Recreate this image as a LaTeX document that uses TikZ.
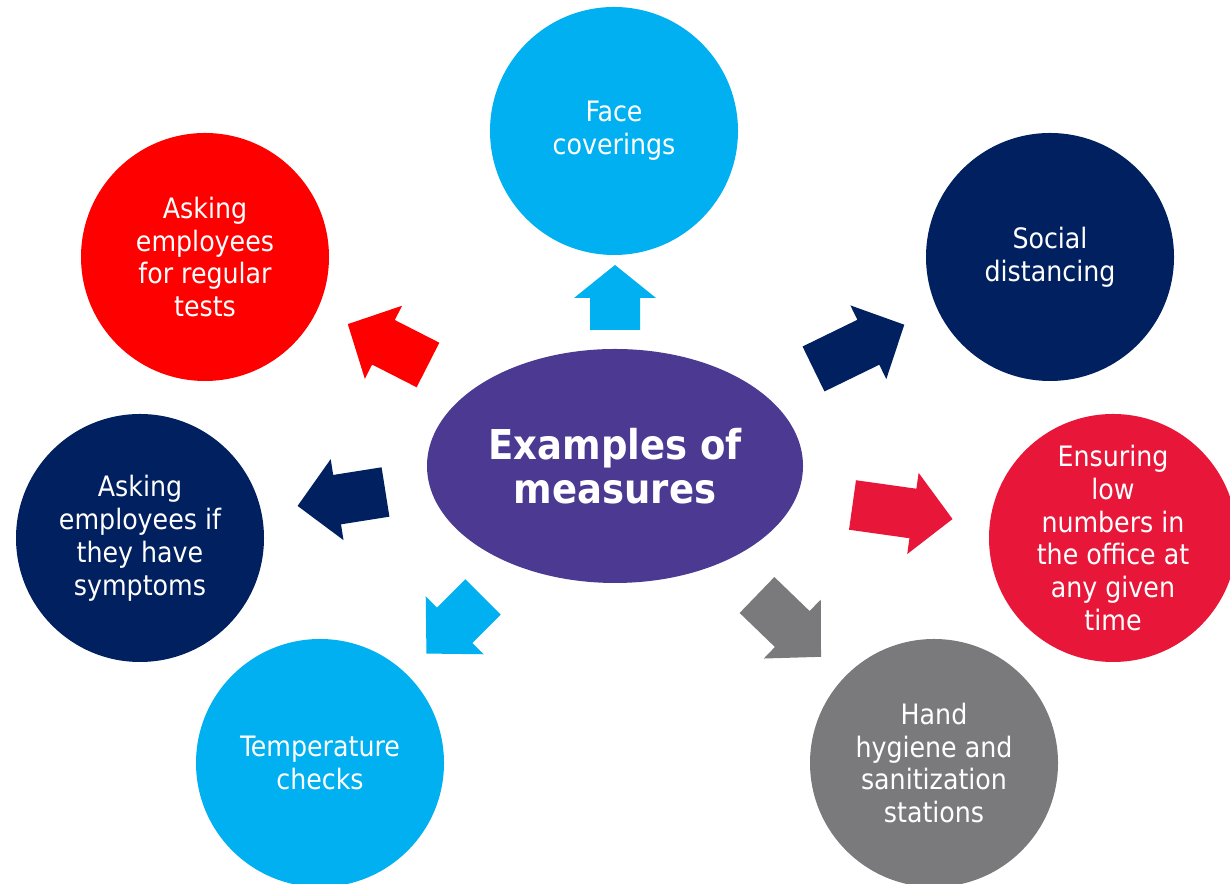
\documentclass[tikz,border=0pt]{standalone}
\usepackage{fontspec}
\setmainfont{DejaVu Sans Condensed}
\usetikzlibrary{shapes.geometric}

\definecolor{skyblue}{HTML}{00B0F0}
\definecolor{brightred}{HTML}{FF0000}
\definecolor{darknavy}{HTML}{002060}
\definecolor{crimson}{HTML}{E8173A}
\definecolor{midgrey}{HTML}{7A7A7C}
\definecolor{hubpurple}{HTML}{4C3A92}

\tikzset{
  measure/.style={circle, minimum size=4.96cm, inner sep=0pt, align=center,
    text=white, font=\fontsize{16}{18.7}\selectfont},
  hub/.style={ellipse, minimum width=7.52cm, minimum height=4.68cm, inner sep=0pt,
    align=center, text=white, fill=hubpurple, font=\bfseries\fontsize{23.4}{25}\selectfont},
}

% block arrow: [head length]{tail}{angle}{length}{colour}
\newcommand{\blockarrow}[5][0.8]{%
  \fill[#5, shift={#2}, rotate=#3] (0,-0.5) -- ({#4-#1},-0.5) -- ({#4-#1},-0.82)
    -- (#4,0) -- ({#4-#1},0.82) -- ({#4-#1},0.5) -- (0,0.5) -- cycle;}

\begin{document}
\begin{tikzpicture}
      \useasboundingbox (0,0) rectangle (24.6,17.68);
      \node[hub] (hub) at (12.30,8.36) {Examples of\\measures};
      \node[measure, fill=skyblue] (face) at (12.28,15.06) {Face\\coverings};
      \node[measure, fill=brightred] (tests) at (4.10,12.54) {Asking\\employees\\for regular\\tests};
      \node[measure, fill=darknavy] (distance) at (21.00,12.54) {Social\\distancing};
      \node[measure, fill=darknavy] (symptoms) at (2.80,6.92) {Asking\\employees if\\they have\\symptoms};
      \node[measure, fill=crimson] (numbers) at (22.26,6.92) {Ensuring\\low\\numbers in\\the office at\\any given\\time};
      \node[measure, fill=skyblue] (temp) at (6.40,2.42) {Temperature\\checks};
      \node[measure, fill=midgrey] (hygiene) at (18.68,2.42) {Hand\\hygiene and\\sanitization\\stations};
      % arrows out of the hub
      \blockarrow[0.66]{(12.30,11.08)}{90}{1.30}{skyblue}
      \blockarrow{(8.56,10.38)}{153}{1.80}{brightred}
      \blockarrow{(16.27,10.30)}{26}{2.02}{darknavy}
      \blockarrow{(7.71,7.84)}{189}{1.78}{darknavy}
      \blockarrow{(17.05,7.58)}{-8}{2.02}{crimson}
      \blockarrow{(9.66,5.74)}{225}{1.60}{skyblue}
      \blockarrow{(15.14,5.78)}{-44}{1.78}{midgrey}
    \end{tikzpicture}
\end{document}
